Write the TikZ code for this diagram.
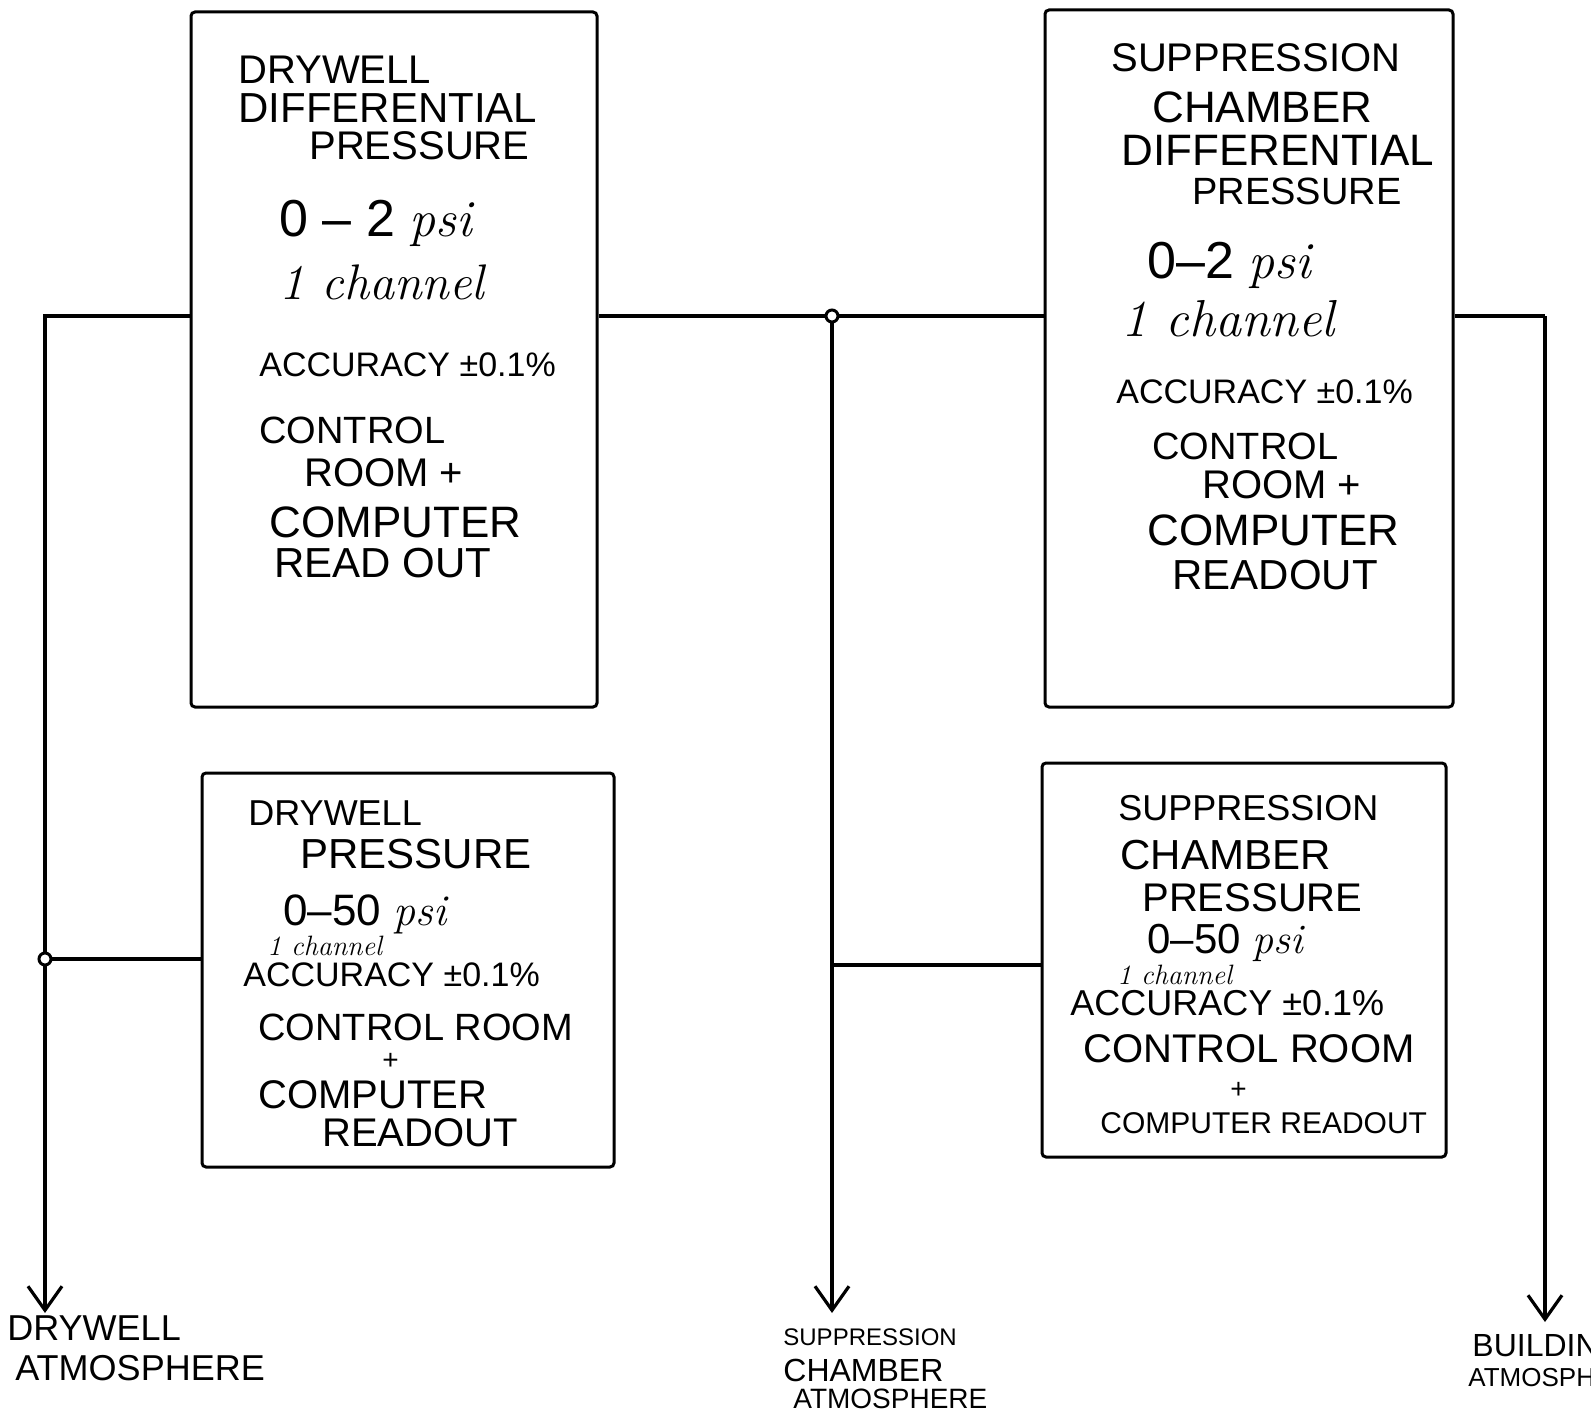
\documentclass[tikz,border=0pt]{standalone}
\usepackage{fontspec}
\setsansfont{Liberation Sans}
\usetikzlibrary{arrows.meta}
\newcommand{\fsz}[1]{\fontsize{#1}{#1}\selectfont}
\newcommand{\handw}[1]{{\rmfamily\itshape #1}}
\tikzset{
  box/.style={draw, line width=1.5pt, rounded corners=2pt, inner sep=0pt},
  wire/.style={line width=1.6pt},
  flow/.style={wire, -{Straight Barb[length=12pt,width=17pt]}},
  lbl/.style={anchor=west, inner sep=0pt, text depth=0pt},
  joint/.style={circle, draw, line width=1.5pt, fill=white, minimum size=6pt, inner sep=0pt},
}
\begin{document}
\begin{tikzpicture}[x=0.5pt,y=-0.5pt]
    \useasboundingbox (0,0) rectangle (1591,1418);
    \clip (0,0) rectangle (1591,1418);
    % instrument boxes
    \node[box, minimum width=203pt, minimum height=347.5pt] (dwdp) at (394,359.5) {};
    \node[box, minimum width=204pt, minimum height=348.5pt] (scdp) at (1249,358.5) {};
    \node[box, minimum width=206pt, minimum height=197pt] (dwp) at (408,970) {};
    \node[box, minimum width=202pt, minimum height=197pt] (scp) at (1244,960) {};
    % piping
    \coordinate (topL) at (45,316);
    \coordinate (jM) at (832,316);
    \coordinate (topR) at (1545,316);
    \coordinate (jL) at (45,959);
    \coordinate (jM2) at (832,965);
    \coordinate (endL) at (45,1313);
    \coordinate (endM) at (832,1313);
    \coordinate (endR) at (1545,1322);
    \draw[wire] (dwdp.west |- topL) -- (topL) -- (jL);
    \draw[flow] (jL) -- (endL);
    \draw[wire] (jL) -- (dwp.west |- jL);
    \draw[wire] (dwdp.east |- jM) -- (scdp.west |- jM);
    \draw[flow] (jM) -- (endM);
    \draw[wire] (jM2) -- (scp.west |- jM2);
    \draw[wire] (scdp.east |- topR) -- (topR);
    \draw[flow] (topR) -- (endR);
    \node[joint] (jLdot) at (jL) {};
    \node[joint] (jMdot) at (jM) {};
    % box texts
    \foreach \x/\y/\s/\txt [count=\i] in {
        238/70/20/DRYWELL, 238/108/21/DIFFERENTIAL, 309/146/20/PRESSURE,
        279/218/26/{0 -- 2 \handw{psi}}, 279/282/25/{\handw{1 channel}},
        259/365/17/{ACCURACY ±0.1\%}, 259/430/19/CONTROL, 304/473/20/ROOM +,
        269/522/22/COMPUTER, 274/563/21/READ OUT}
        \node[lbl, font=\sffamily\fsz{\s}] (dwdp\i) at (\x,\y) {\txt};
    \foreach \x/\y/\s/\txt [count=\i] in {
        1111/58/20/SUPPRESSION, 1152/107/22/CHAMBER, 1121/150/22/DIFFERENTIAL,
        1192/191/19/PRESSURE, 1147/260/26/{0--2 \handw{psi}}, 1121/318/26/{\handw{1 channel}},
        1116/392/17/{ACCURACY ±0.1\%}, 1152/446/19/CONTROL, 1202/485/20/ROOM +,
        1147/530/22/COMPUTER, 1172/575/21/READOUT}
        \node[lbl, font=\sffamily\fsz{\s}] (scdp\i) at (\x,\y) {\txt};
    \foreach \x/\y/\s/\txt [count=\i] in {
        248/813/18/DRYWELL, 300/854/21/PRESSURE, 283/910/22/{0--50 \handw{psi}},
        267/946/14/{\handw{1 channel}}, 243/975/17/{ACCURACY ±0.1\%},
        258/1027/19/CONTROL ROOM, 382/1061/14/+, 258/1095/20/COMPUTER,
        322/1133/20/READOUT}
        \node[lbl, font=\sffamily\fsz{\s}] (dwp\i) at (\x,\y) {\txt};
    \foreach \x/\y/\s/\txt [count=\i] in {
        1118/808/18/SUPPRESSION, 1120/855/21/CHAMBER, 1142/898/20/PRESSURE,
        1147/939/21/{0--50 \handw{psi}}, 1117/975/14/{\handw{1 channel}},
        1070/1003/18/{ACCURACY ±0.1\%}, 1083/1049/20/CONTROL ROOM, 1230/1090/14/+,
        1100/1123/15/COMPUTER READOUT}
        \node[lbl, font=\sffamily\fsz{\s}] (scp\i) at (\x,\y) {\txt};
    % outlets
    \node[lbl, font=\sffamily\fsz{18}] (dwatm1) at (7,1328) {DRYWELL};
    \node[lbl, font=\sffamily\fsz{18}] (dwatm2) at (15,1368) {ATMOSPHERE};
    \node[lbl, font=\sffamily\fsz{12}] (scatm1) at (783,1337) {SUPPRESSION};
    \node[lbl, font=\sffamily\fsz{16}] (scatm2) at (783,1370) {CHAMBER};
    \node[lbl, font=\sffamily\fsz{14}] (scatm3) at (793,1399) {ATMOSPHERE};
    \node[lbl, font=\sffamily\fsz{16}] (bdatm1) at (1472,1345) {BUILDING};
    \node[lbl, font=\sffamily\fsz{13}] (bdatm2) at (1468,1377) {ATMOSPHERE};
\end{tikzpicture}
\end{document}
